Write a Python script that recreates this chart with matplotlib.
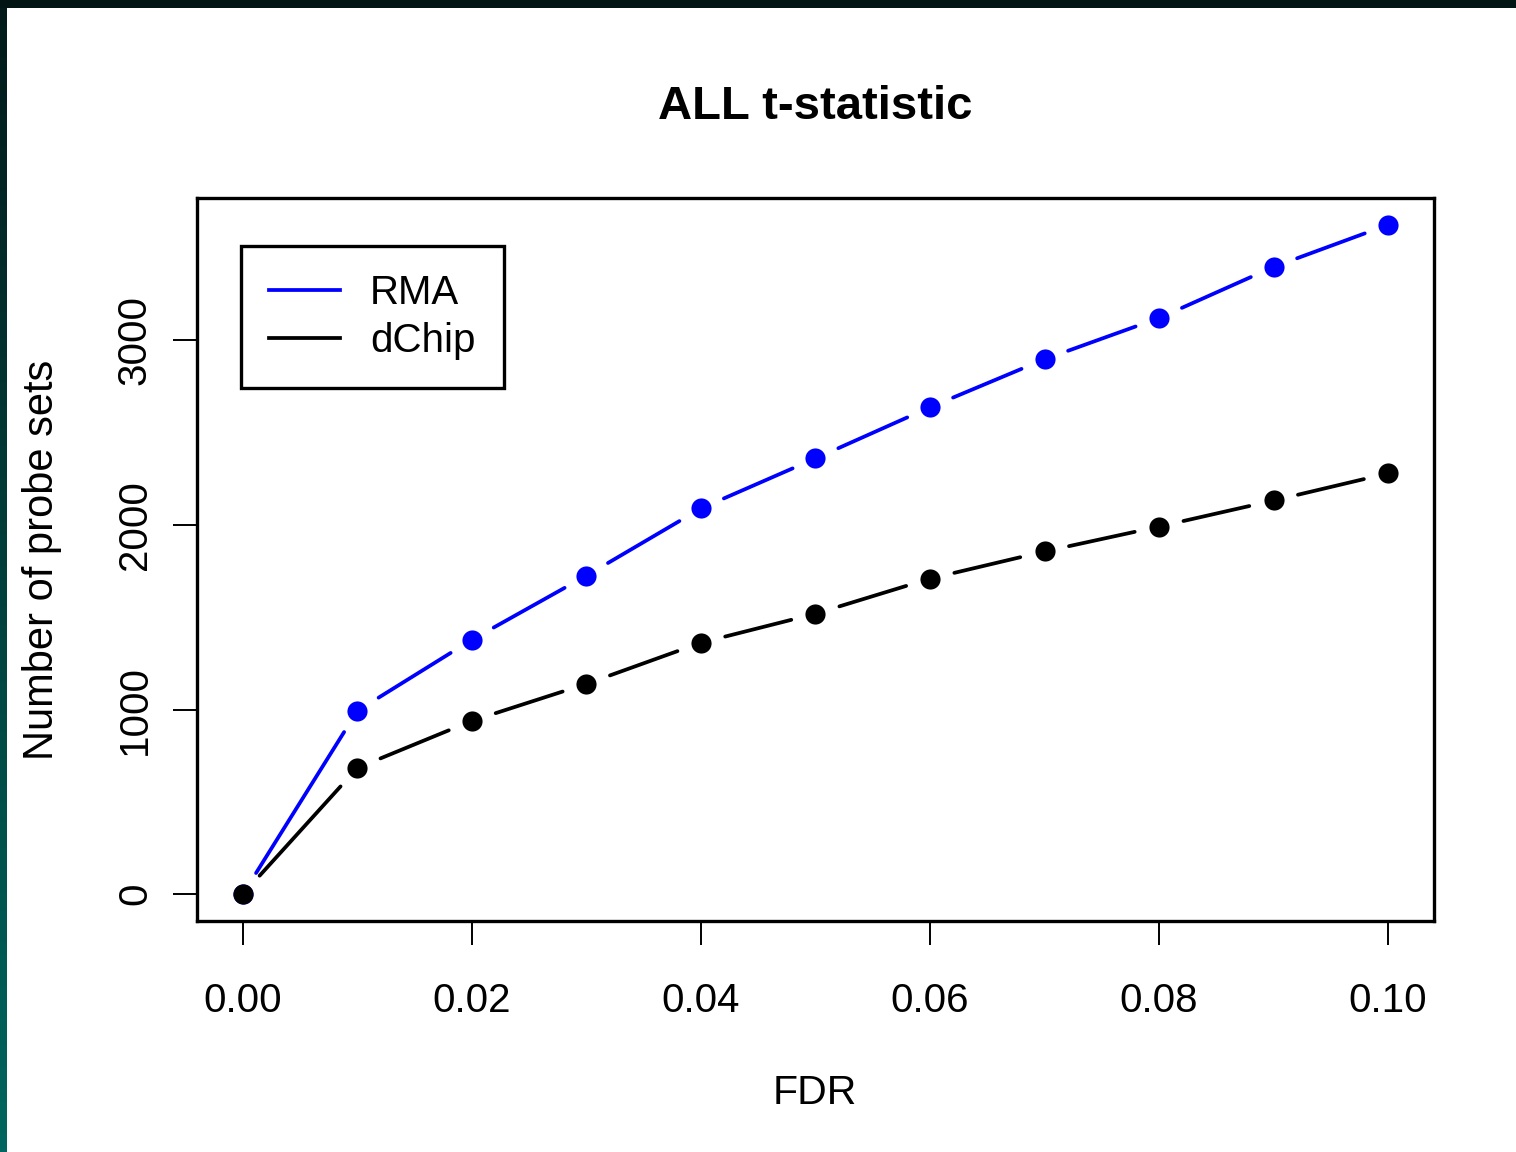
import numpy as np
import matplotlib
matplotlib.use("Agg")
import matplotlib.pyplot as plt
from matplotlib.patches import Rectangle
from matplotlib.colors import LinearSegmentedColormap
from matplotlib.lines import Line2D

# ---- data ----
fdr = [0.00, 0.01, 0.02, 0.03, 0.04, 0.05, 0.06, 0.07, 0.08, 0.09, 0.10]
rma = [0, 993, 1378, 1725, 2089, 2360, 2637, 2897, 3120, 3397, 3625]
dchip = [0, 684, 939, 1139, 1362, 1519, 1709, 1856, 1991, 2132, 2279]
xticks = [0.00, 0.02, 0.04, 0.06, 0.08, 0.10]
xticklabels = ["0.00", "0.02", "0.04", "0.06", "0.08", "0.10"]
yticks = [0, 1000, 2000, 3000]
yticklabels = ["0", "1000", "2000", "3000"]
title = "ALL t-statistic"
xlabel = "FDR"
ylabel = "Number of probe sets"
series_names = ["RMA", "dChip"]
series_colors = ["#0000ff", "#000000"]

plt.rcParams['font.family'] = ['Liberation Sans', 'DejaVu Sans']

W, H = 1516, 1152
fig = plt.figure(figsize=(W / 100, H / 100), dpi=100, facecolor="#021414")

# white canvas
fig.patches.append(Rectangle((7 / W, 0), 1 - 7 / W, (H - 8) / H,
                             transform=fig.transFigure, facecolor="white",
                             edgecolor="none", zorder=-5))
# left teal strip gradient
sax = fig.add_axes([0, 0, 7 / W, (H - 8) / H])
cmap = LinearSegmentedColormap.from_list("strip", ["#031a1a", "#00665f"])
sax.imshow(np.linspace(0, 1, 256).reshape(-1, 1), aspect="auto", cmap=cmap)
sax.axis("off")

ax = fig.add_axes([197 / W, (H - 921) / H, (1434 - 197) / W, (921 - 198) / H])
ax.set_facecolor("white")

xr = max(fdr) - min(fdr)
ymax = max(max(rma), max(dchip))
ax.set_xlim(min(fdr) - 0.04 * xr, max(fdr) + 0.04 * xr)
ax.set_ylim(-0.04 * ymax, ymax * 1.04)

gap = 25.0  # pixels
lw = 2.7
fig.canvas.draw()
trans = ax.transData
inv = trans.inverted()
for ys, col in zip([rma, dchip], series_colors):
    pts = trans.transform(np.column_stack([fdr, ys]))
    for i in range(len(pts) - 1):
        p0, p1 = pts[i], pts[i + 1]
        d = p1 - p0
        L = np.hypot(*d)
        if L <= 2 * gap:
            continue
        u = d / L
        a = inv.transform(p0 + u * gap)
        b = inv.transform(p1 - u * gap)
        ax.plot([a[0], b[0]], [a[1], b[1]], color=col, lw=lw,
                solid_capstyle="round", zorder=2)
    ax.plot(fdr, ys, linestyle="none", marker="o", markersize=14.5,
            color=col, markeredgewidth=0, zorder=3)

for s in ax.spines.values():
    s.set_linewidth(2.4)
    s.set_color("black")

ax.set_xticks(xticks)
ax.set_xticklabels(xticklabels, fontsize=29)
ax.set_yticks(yticks)
ax.set_yticklabels(yticklabels, fontsize=29, rotation=90, va="center")
ax.tick_params(axis="both", length=17, width=1.4, color="black")
ax.tick_params(axis="x", pad=27)
ax.tick_params(axis="y", pad=14)

fig.text(815 / W, 1 - 107 / H, title, ha="center", va="center",
         fontsize=34, fontweight="bold")
fig.text(815 / W, 1 - 1093 / H, xlabel, ha="center", va="center", fontsize=29.5)
fig.text(42 / W, 1 - 560 / H, ylabel, ha="center", va="center",
         fontsize=30, rotation=90)

# legend
handles = [Line2D([], [], color=c, lw=lw) for c in series_colors]
leg = ax.legend(handles, series_names, loc="upper left",
                bbox_to_anchor=((241 - 197) / (1434 - 197), (921 - 246) / (921 - 198)),
                fontsize=29, frameon=True, fancybox=False, framealpha=1,
                edgecolor="black", handlelength=1.75, handletextpad=0.75,
                borderpad=0.7, labelspacing=0.25, borderaxespad=0)
leg.get_frame().set_linewidth(2.4)

fig.savefig("out.png", dpi=100, facecolor=fig.get_facecolor())
